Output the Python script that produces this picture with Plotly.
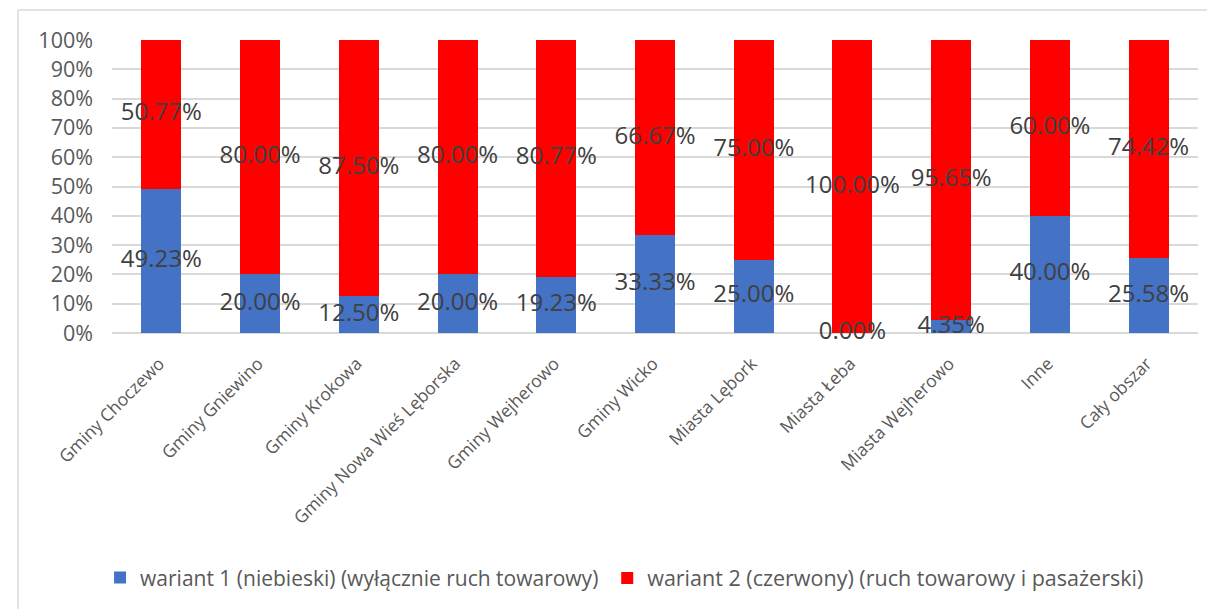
import plotly.graph_objects as go

categories = ["Gminy Choczewo", "Gminy Gniewino", "Gminy Krokowa", "Gminy Nowa Wieś Lęborska",
              "Gminy Wejherowo", "Gminy Wicko", "Miasta Lębork", "Miasta Łeba",
              "Miasta Wejherowo", "Inne", "Cały obszar"]
wariant1 = [49.23, 20.00, 12.50, 20.00, 19.23, 33.33, 25.00, 0.00, 4.35, 40.00, 25.58]
wariant2 = [50.77, 80.00, 87.50, 80.00, 80.77, 66.67, 75.00, 100.00, 95.65, 60.00, 74.42]
y_ticks = list(range(0, 101, 10))
name1 = "wariant 1 (niebieski) (wyłącznie ruch towarowy)"
name2 = "wariant 2 (czerwony) (ruch towarowy i pasażerski)"

FONT = "Open Sans"
fig = go.Figure()
fig.add_trace(go.Bar(x=categories, y=wariant1, name=name1, legend="legend",
                     marker=dict(color="#4472C4", line=dict(width=0))))
fig.add_trace(go.Bar(x=categories, y=wariant2, name=name2, legend="legend2",
                     marker=dict(color="#FF0000", line=dict(width=0))))

# data labels centered in each segment
mid1 = [v / 2 for v in wariant1]
mid2 = [a + b / 2 for a, b in zip(wariant1, wariant2)]
fig.add_trace(go.Scatter(x=categories, y=mid1, mode="text", text=[f"{v:.2f}%" for v in wariant1],
                         textfont=dict(family=FONT, size=24, color="#404040"), showlegend=False,
                         hoverinfo="skip", cliponaxis=False))
fig.add_trace(go.Scatter(x=categories, y=mid2, mode="text", text=[f"{v:.2f}%" for v in wariant2],
                         textfont=dict(family=FONT, size=24, color="#404040"), showlegend=False,
                         hoverinfo="skip", cliponaxis=False))

legend_font = dict(family=FONT, size=21, color="#595959")
fig.update_layout(
    barmode="stack",
    bargap=0.595,
    width=1215, height=609,
    margin=dict(l=104, r=25, t=32, b=284, autoexpand=False),
    paper_bgcolor="white", plot_bgcolor="white",
    font=dict(family=FONT, color="#595959"),
    legend=dict(orientation="h", x=-0.011, xanchor="left", y=-0.836, yanchor="middle",
                font=legend_font, itemwidth=30, bgcolor="rgba(0,0,0,0)"),
    legend2=dict(orientation="h", x=0.456, xanchor="left", y=-0.836, yanchor="middle",
                 font=dict(family=FONT, size=21.5, color="#595959"), itemwidth=30,
                 bgcolor="rgba(0,0,0,0)"),
    xaxis=dict(tickangle=-45, tickfont=dict(family=FONT, size=17.5, color="#595959"),
               range=[-0.5, len(categories) - 0.5],
               showgrid=False, showline=False, ticks="", automargin=False,
               ticklabelstandoff=16, ticklabelshift=-2),
    yaxis=dict(range=[0, 100], tickvals=y_ticks, ticktext=[f"{t}%" for t in y_ticks],
               tickfont=dict(family=FONT, size=21.5, color="#595959"),
               showgrid=True, gridcolor="#D9D9D9", gridwidth=1.5, automargin=False,
               ticklabelstandoff=18,
               zeroline=True, zerolinecolor="#D9D9D9", zerolinewidth=1.5, ticks="", ticklen=0),
    shapes=[
        dict(type="line", xref="paper", yref="paper", x0=-0.0866, x1=1.03, y0=1.1024, y1=1.1024,
             line=dict(color="#D9D9D9", width=1.5)),
        dict(type="line", xref="paper", yref="paper", x0=-0.0866, x1=-0.0866, y0=1.1024, y1=-0.98,
             line=dict(color="#D9D9D9", width=1.5)),
    ],
)

fig.write_html("out.html")
